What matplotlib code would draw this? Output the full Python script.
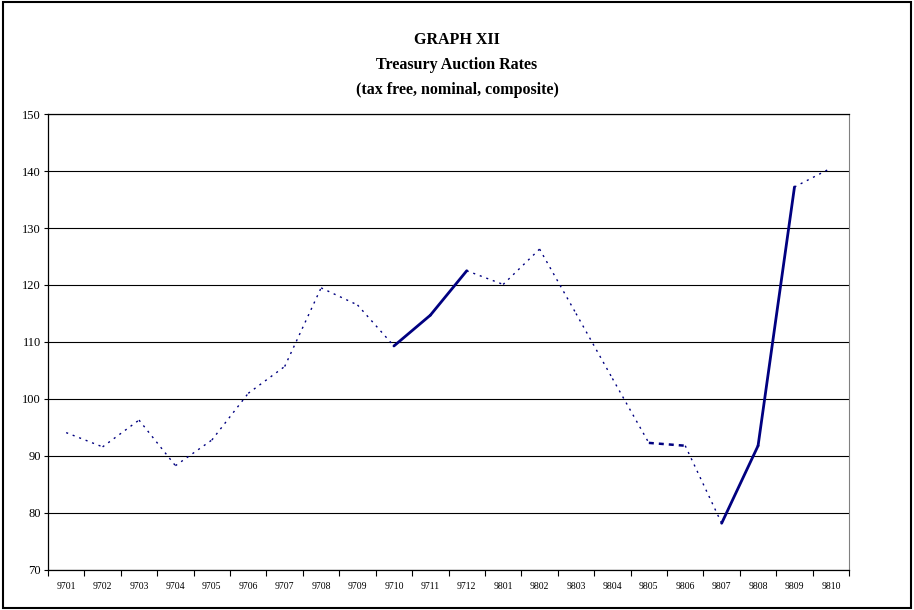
import matplotlib
matplotlib.use("Agg")
import matplotlib.pyplot as plt
from matplotlib.patches import Rectangle

# data
months = ['9701', '9702', '9703', '9704', '9705', '9706', '9707', '9708', '9709', '9710', '9711',
          '9712', '9801', '9802', '9803', '9804', '9805', '9806', '9807', '9808', '9809', '9810']
rates = [94.1, 91.6, 96.3, 88.3, 92.8, 101.0, 105.7, 119.5, 116.5, 109.3, 114.7,
         122.5, 120.1, 126.3, 115.0, 103.6, 92.3, 91.8, 78.2, 91.8, 137.2, 140.5]
# kind of each segment between consecutive months
seg_kind = ['dot'] * 9 + ['solid'] * 2 + ['dot'] * 5 + ['dash', 'dot'] + ['solid'] * 2 + ['dot']

plt.rcParams['font.family'] = ['Liberation Serif', 'DejaVu Serif']

fig = plt.figure(figsize=(9.14, 6.10), dpi=100)
ax = fig.add_axes([0.0525, 0.0656, 0.8765, 0.7475])

x = list(range(len(months)))
for i, kind in enumerate(seg_kind):
    xs = x[i:i + 2]
    ys = rates[i:i + 2]
    if kind == 'solid':
        ax.plot(xs, ys, color='#000080', lw=2.0, solid_capstyle='round', zorder=3)
    elif kind == 'dash':
        ax.plot(xs, ys, color='#000080', lw=1.8, linestyle=(0, (2, 2)), zorder=3)
    else:
        ax.plot(xs, ys, color='#000080', lw=1.0, linestyle=(0, (1.5, 3.5)), zorder=3)

ax.set_xlim(-0.5, len(months) - 0.5)
ax.set_ylim(70, 150)
ax.set_yticks(range(70, 151, 10))
ax.set_xticks(x)
ax.set_xticklabels(months, fontsize=7)
ax.set_xticks([i - 0.5 for i in range(len(months) + 1)], minor=True)
ax.tick_params(axis='x', which='major', length=0, pad=9)
ax.tick_params(axis='x', which='minor', length=4, width=0.8, direction='out')
ax.tick_params(axis='y', labelsize=9, length=3, width=0.8, pad=2)
ax.yaxis.grid(True, color='black', lw=0.8)
ax.set_axisbelow(True)
for s in ['left', 'bottom', 'top']:
    ax.spines[s].set_color('black')
    ax.spines[s].set_linewidth(0.9)
ax.spines['right'].set_color('#808080')

fig.text(0.5, 0.935, 'GRAPH XII', ha='center', va='center', fontsize=11.5, fontweight='bold')
fig.text(0.5, 0.894, 'Treasury Auction Rates', ha='center', va='center', fontsize=11.5, fontweight='bold')
fig.text(0.5, 0.853, '(tax free, nominal, composite)', ha='center', va='center', fontsize=11.5, fontweight='bold')

fig.patches.append(Rectangle((0.003, 0.004), 0.994, 0.992, transform=fig.transFigure,
                             fill=False, edgecolor='black', lw=1.5))

fig.savefig('out.png', dpi=100)
